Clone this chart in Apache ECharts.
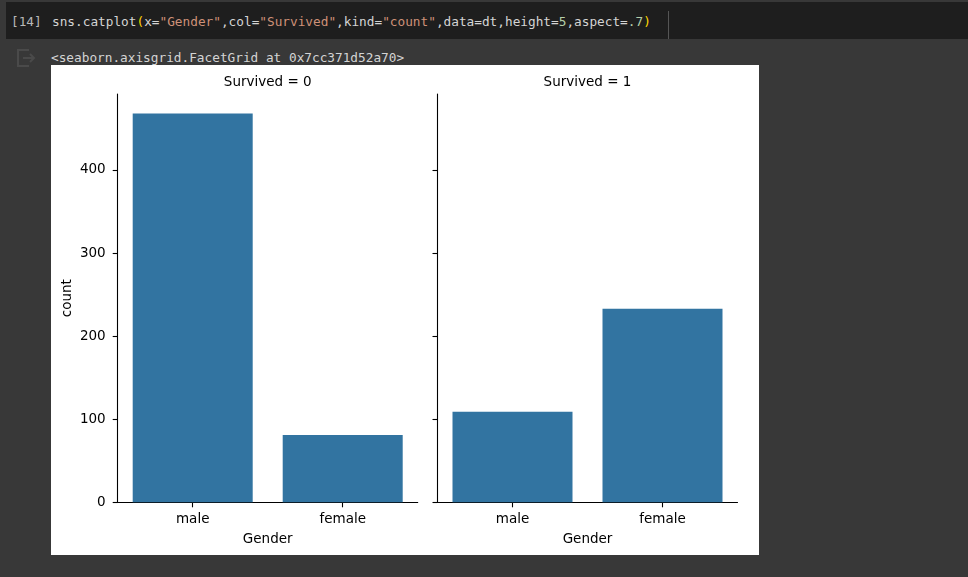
<!DOCTYPE html>
<html>
<head>
<meta charset="utf-8">
<script src="https://cdn.jsdelivr.net/npm/echarts@6/dist/echarts.min.js"></script>
<style>
  html, body { margin: 0; padding: 0; }
  body { width: 968px; height: 577px; background: #383838; position: relative; overflow: hidden; }
  .mono { font-family: "DejaVu Sans Mono", "Liberation Mono", monospace; font-size: 12.75px; white-space: pre; position: absolute; line-height: 16px; }
  #cell { position: absolute; left: 6px; top: 2px; width: 962px; height: 37px; background: #1e1e1e; }
  #prompt { left: 11px; top: 14px; color: #b8b8b8; }
  #code { left: 52px; top: 14px; color: #d4d4d4; }
  .s { color: #ce9178; } .n { color: #b5cea8; } .p { color: #ffd700; }
  #vline { position: absolute; left: 668px; top: 11px; width: 1px; height: 28px; background: #555; }
  #out { left: 51px; top: 50px; color: #d4d4d4; }
  #icon { position: absolute; left: 15px; top: 47px; }
  #chart { position: absolute; left: 51px; top: 65px; width: 708px; height: 490px; background: #fff; }
</style>
</head>
<body>
<div id="cell"></div>
<div id="prompt" class="mono">[14]</div>
<div id="code" class="mono">sns.catplot<span class="p">(</span>x=<span class="s">"Gender"</span>,col=<span class="s">"Survived"</span>,kind=<span class="s">"count"</span>,data=dt,height=<span class="n">5</span>,aspect=<span class="n">.7</span><span class="p">)</span></div>
<div id="vline"></div>
<svg id="icon" width="22" height="22" viewBox="0 0 22 22">
  <path d="M14 3 H3 V19 H14" fill="none" stroke="#4a4a4a" stroke-width="2"/>
  <path d="M8 11 H19 M15 7 L19 11 L15 15" fill="none" stroke="#4a4a4a" stroke-width="2"/>
</svg>
<div id="out" class="mono">&lt;seaborn.axisgrid.FacetGrid at 0x7cc371d52a70&gt;</div>
<div id="chart"></div>
<script>
const categories = ['male', 'female'];
const survived0 = [468, 81];
const survived1 = [109, 233];
const yTicks = [0, 100, 200, 300, 400];
const panelTitles = ['Survived = 0', 'Survived = 1'];
const xName = 'Gender';
const yName = 'count';

const font = 'DejaVu Sans';
const txt = { fontFamily: font, fontSize: 13.5, color: '#000' };
const barColor = '#3274a1';
const yMax = 491.4;

const chart = echarts.init(document.getElementById('chart'), null, { renderer: 'canvas' });

function xAxis(i) {
  return {
    type: 'category', gridIndex: i, data: categories,
    axisLine: { show: true, lineStyle: { color: '#000', width: 1.1 } },
    axisTick: { show: true, alignWithLabel: true, length: 5, lineStyle: { color: '#000', width: 1.1 } },
    axisLabel: Object.assign({ margin: 10 }, txt),
    name: xName, nameLocation: 'middle', nameGap: 30, nameTextStyle: txt,
    splitLine: { show: false }
  };
}
function yAxis(i) {
  return {
    type: 'value', gridIndex: i, min: 0, max: yMax,
    axisLine: { show: true, lineStyle: { color: '#000', width: 1.1 } },
    axisTick: { show: true, length: 5, customValues: yTicks, lineStyle: { color: '#000', width: 1.1 } },
    axisLabel: Object.assign({ show: i === 0, margin: 12, customValues: yTicks }, txt),
    splitLine: { show: false },
    name: i === 0 ? yName : '', nameLocation: 'middle', nameGap: 43, nameTextStyle: txt
  };
}

chart.setOption({
  animation: false,
  backgroundColor: '#fff',
  title: panelTitles.map((t, i) => ({
    text: t, left: (i === 0 ? 66.7 : 386.5) + 150, top: 10, textAlign: 'center', padding: 0,
    textStyle: Object.assign({ fontWeight: 'normal' }, txt)
  })),
  grid: [
    { left: 66.7, top: 29, width: 300, height: 408.3 },
    { left: 386.5, top: 29, width: 300, height: 408.3 }
  ],
  xAxis: [xAxis(0), xAxis(1)],
  yAxis: [yAxis(0), yAxis(1)],
  series: [
    { type: 'bar', xAxisIndex: 0, yAxisIndex: 0, data: survived0, barWidth: '80%', itemStyle: { color: barColor } },
    { type: 'bar', xAxisIndex: 1, yAxisIndex: 1, data: survived1, barWidth: '80%', itemStyle: { color: barColor } }
  ]
});
</script>
</body>
</html>
